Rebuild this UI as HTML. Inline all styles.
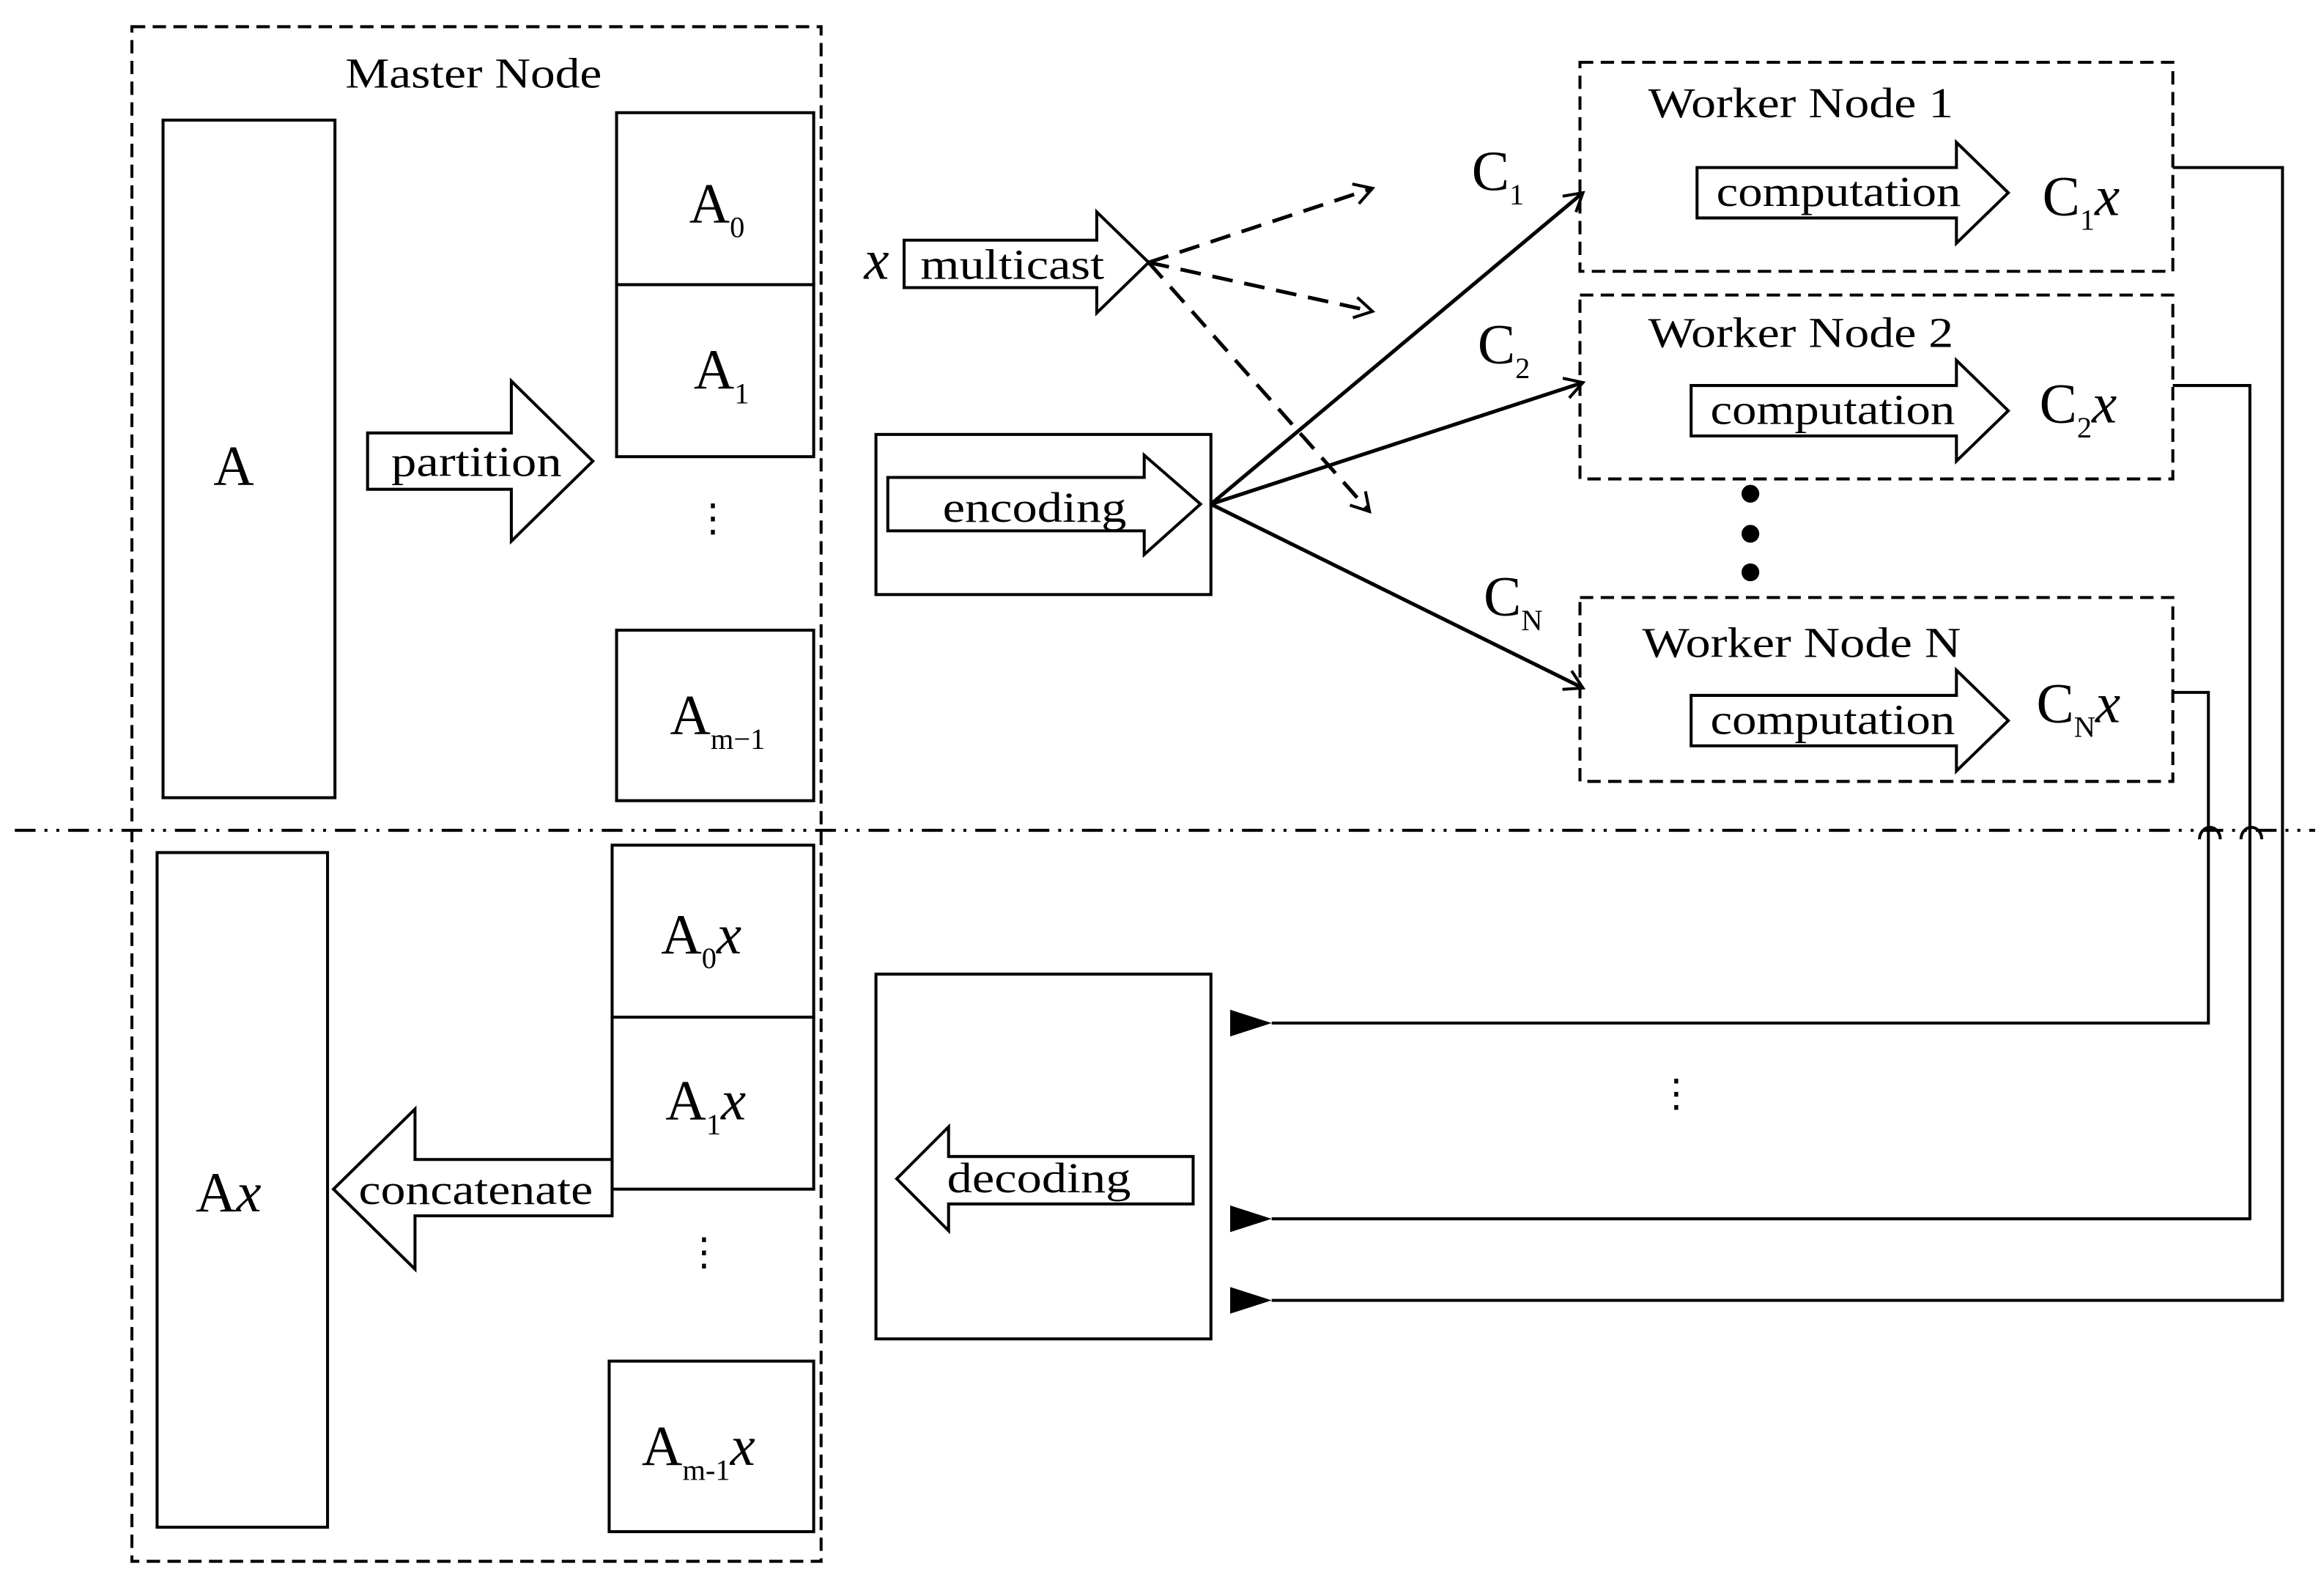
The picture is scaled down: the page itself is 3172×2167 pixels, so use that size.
<!DOCTYPE html>
<html><head><meta charset="utf-8"><style>
html,body{margin:0;padding:0;background:#fff}
svg{display:block}
text{font-family:"Liberation Serif",serif;fill:#000}
</style></head><body>
<svg width="3172" height="2167" viewBox="0 0 1568 1071" preserveAspectRatio="none" xmlns="http://www.w3.org/2000/svg">
<defs>
<marker id="ah" markerWidth="16" markerHeight="16" refX="14" refY="8" orient="auto" markerUnits="userSpaceOnUse"><path d="M2,1 L14,8 L2,15" fill="none" stroke="#000" stroke-width="2"/></marker>
<marker id="fh" markerWidth="28" markerHeight="18" refX="0" refY="9" orient="auto" markerUnits="userSpaceOnUse"><path d="M28,0 L0,9 L28,18 Z" fill="#000"/></marker>
</defs>
<g fill="none" stroke="#000" stroke-width="2">
<rect x="89" y="18" width="465" height="1035" stroke-dasharray="9,5"/>
<line x1="10" y1="560" x2="1562" y2="560" stroke-dasharray="14,6,2,6,2,6"/>
<rect x="110" y="81" width="116" height="457"/>
<path d="M248,292 H345 V257 L400,311 L345,365 V330 H248 Z"/>
<rect x="416" y="76" width="133" height="116"/>
<rect x="416" y="192" width="133" height="116"/>
<rect x="416" y="425" width="133" height="115"/>
<path d="M610,162 H740 V143 L775,177 L740,211 V194 H610 Z"/>
<g stroke-dasharray="14,8" marker-end="url(#ah)" stroke-width="2.5">
<line x1="775" y1="177" x2="926" y2="127"/>
<line x1="775" y1="177" x2="926" y2="210"/>
<line x1="775" y1="177" x2="924" y2="345"/>
</g>
<rect x="591" y="293" width="226" height="108"/>
<path d="M599,322 H772 V307 L810,340 L772,374 V358 H599 Z"/>
<g marker-end="url(#ah)" stroke-width="2.5">
<line x1="817" y1="340" x2="1068" y2="130"/>
<line x1="817" y1="340" x2="1068" y2="258"/>
<line x1="817" y1="340" x2="1068" y2="464"/>
</g>
<g stroke-dasharray="9,5">
<rect x="1066" y="42" width="400" height="141"/>
<rect x="1066" y="199" width="400" height="124"/>
<rect x="1066" y="403" width="400" height="124"/>
</g>
<path d="M1145,113 H1320 V96 L1355,130 L1320,164 V147 H1145 Z"/>
<path d="M1141,260 H1320 V243 L1355,277 L1320,311 V294 H1141 Z"/>
<path d="M1141,469 H1320 V452 L1355,486 L1320,520 V503 H1141 Z"/>
<path d="M1466,113 H1540 V877 H858" marker-end="url(#fh)"/>
<path d="M1466,260 H1518 V822 H858" marker-end="url(#fh)"/>
<path d="M1466,467 H1490 V690 H858" marker-end="url(#fh)"/>
<path d="M1484,566 A7,8 0 0 1 1498,566 M1512,566 A7,8 0 0 1 1526,566"/>
<rect x="591" y="657" width="226" height="246"/>
<path d="M605,795 L640,760 V780 H805 V812 H640 V830 Z"/>
<rect x="106" y="575" width="115" height="455"/>
<rect x="413" y="570" width="136" height="116"/>
<rect x="413" y="686" width="136" height="116"/>
<rect x="411" y="918" width="138" height="115"/>
<path d="M225,802 L280,748 V782 H413 V820 H280 V856 Z"/>
</g>
<g fill="#000"><circle cx="1181" cy="333" r="6"/><circle cx="1181" cy="360" r="6"/><circle cx="1181" cy="386" r="6"/></g>
<g font-size="29" lengthAdjust="spacingAndGlyphs">
<text x="233" y="59" textLength="173" lengthAdjust="spacingAndGlyphs">Master Node</text>
<text x="264" y="321" textLength="115" lengthAdjust="spacingAndGlyphs">partition</text>
<text x="621" y="188" textLength="124" lengthAdjust="spacingAndGlyphs">multicast</text>
<text x="636" y="352" textLength="124" lengthAdjust="spacingAndGlyphs">encoding</text>
<text x="1112" y="79" textLength="206" lengthAdjust="spacingAndGlyphs">Worker Node 1</text>
<text x="1112" y="234" textLength="206" lengthAdjust="spacingAndGlyphs">Worker Node 2</text>
<text x="1108" y="443" textLength="215" lengthAdjust="spacingAndGlyphs">Worker Node N</text>
<text x="1158" y="139" textLength="165" lengthAdjust="spacingAndGlyphs">computation</text>
<text x="1154" y="286" textLength="165" lengthAdjust="spacingAndGlyphs">computation</text>
<text x="1154" y="495" textLength="165" lengthAdjust="spacingAndGlyphs">computation</text>
<text x="639" y="804" textLength="124" lengthAdjust="spacingAndGlyphs">decoding</text>
<text x="242" y="812" textLength="158" lengthAdjust="spacingAndGlyphs">concatenate</text>
</g>
<g font-size="38">
<text x="144" y="327">A</text>
<text x="465" y="150">A<tspan font-size="20" dy="10">0</tspan></text>
<text x="468" y="262">A<tspan font-size="20" dy="10">1</tspan></text>
<text x="452" y="495">A<tspan font-size="20" dy="10">m−1</tspan></text>
<text x="468" y="358" font-size="26">⋮</text>
<text x="583" y="188" font-style="italic">x</text>
<text x="993" y="128">C<tspan font-size="20" dy="10">1</tspan></text>
<text x="997" y="245">C<tspan font-size="20" dy="10">2</tspan></text>
<text x="1001" y="415">C<tspan font-size="20" dy="10">N</tspan></text>
<text x="1378" y="145">C<tspan font-size="20" dy="10">1</tspan><tspan dy="-10" font-style="italic">x</tspan></text>
<text x="1376" y="285">C<tspan font-size="20" dy="10">2</tspan><tspan dy="-10" font-style="italic">x</tspan></text>
<text x="1374" y="487">C<tspan font-size="20" dy="10">N</tspan><tspan dy="-10" font-style="italic">x</tspan></text>
<text x="1118" y="746" font-size="26">⋮</text>
<text x="132" y="817">A<tspan font-style="italic">x</tspan></text>
<text x="446" y="643">A<tspan font-size="20" dy="10">0</tspan><tspan dy="-10" font-style="italic">x</tspan></text>
<text x="449" y="755">A<tspan font-size="20" dy="10">1</tspan><tspan dy="-10" font-style="italic">x</tspan></text>
<text x="462" y="853" font-size="26">⋮</text>
<text x="433" y="988">A<tspan font-size="20" dy="10">m-1</tspan><tspan dy="-10" font-style="italic">x</tspan></text>
</g>
</svg>
</body></html>
